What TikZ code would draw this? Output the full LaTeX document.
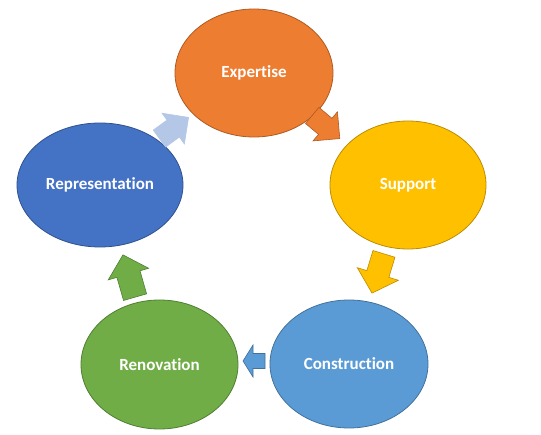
\documentclass[tikz,border=0pt]{standalone}
\usepackage{fontspec}
\setmainfont{Carlito}[Ligatures={NoCommon}]
\usetikzlibrary{shapes.geometric}
\definecolor{cOrange}{HTML}{ED7D31}
\definecolor{cOrangeD}{HTML}{AE5A21}
\definecolor{cYellow}{HTML}{FFC000}
\definecolor{cYellowD}{HTML}{BC8C00}
\definecolor{cBlue}{HTML}{5B9BD5}
\definecolor{cBlueD}{HTML}{41719C}
\definecolor{cGreen}{HTML}{70AD47}
\definecolor{cGreenD}{HTML}{507E32}
\definecolor{cDBlue}{HTML}{4472C4}
\definecolor{cDBlueD}{HTML}{2F528F}
\definecolor{cLBlue}{HTML}{B4C7E7}
\newcommand{\cyclearrow}[8]{\draw[#1,shift={(#2,#3)},rotate=#4] ({-#5/2},{-#7/2}) -- ({#5/2-#8},{-#7/2}) -- ({#5/2-#8},{-#6/2}) -- ({#5/2},0) -- ({#5/2-#8},{#6/2}) -- ({#5/2-#8},{#7/2}) -- ({-#5/2},{#7/2}) -- cycle;}
\begin{document}
\begin{tikzpicture}[x=1pt,y=-1pt,
  bubble/.style={ellipse, inner sep=0pt, line width=0.8pt, text=white,
    font=\bfseries\fontsize{17}{20}\selectfont},
  arr/.style={line width=0.6pt, line join=miter}]
\useasboundingbox[fill=white] (0,0) rectangle (541,435);
\node[bubble, fill=cOrange, draw=cOrangeD, minimum width=158pt, minimum height=128pt] (exp) at (254,73) {Expertise};
\node[bubble, fill=cYellow, draw=cYellowD, minimum width=156pt, minimum height=128pt] (sup) at (408,185) {Support};
\node[bubble, fill=cBlue, draw=cBlueD, minimum width=158pt, minimum height=128pt] (con) at (349,364) {Construction};
\node[bubble, fill=cGreen, draw=cGreenD, minimum width=157pt, minimum height=129pt] (ren) at (159.5,364.5) {Renovation};
\node[bubble, fill=cDBlue, draw=cDBlueD, minimum width=166pt, minimum height=124pt] (rep) at (100,185) {Representation};
\cyclearrow{arr, fill=cOrange, draw=cOrangeD}{326}{127}{-40}{36}{38}{21}{19}
\cyclearrow{arr, fill=cYellow, draw=cYellowD}{378}{273.5}{-107}{41}{43}{23}{20}
\cyclearrow{arr, fill=cBlue, draw=cBlueD}{254}{361}{180}{22}{32}{15}{10}
\cyclearrow{arr, fill=cGreen, draw=cGreenD}{129}{276}{106}{44}{42}{24}{20}
\cyclearrow{arr, fill=cLBlue, draw=cLBlue}{174}{128}{36}{36}{38}{21}{19}
\end{tikzpicture}
\end{document}
